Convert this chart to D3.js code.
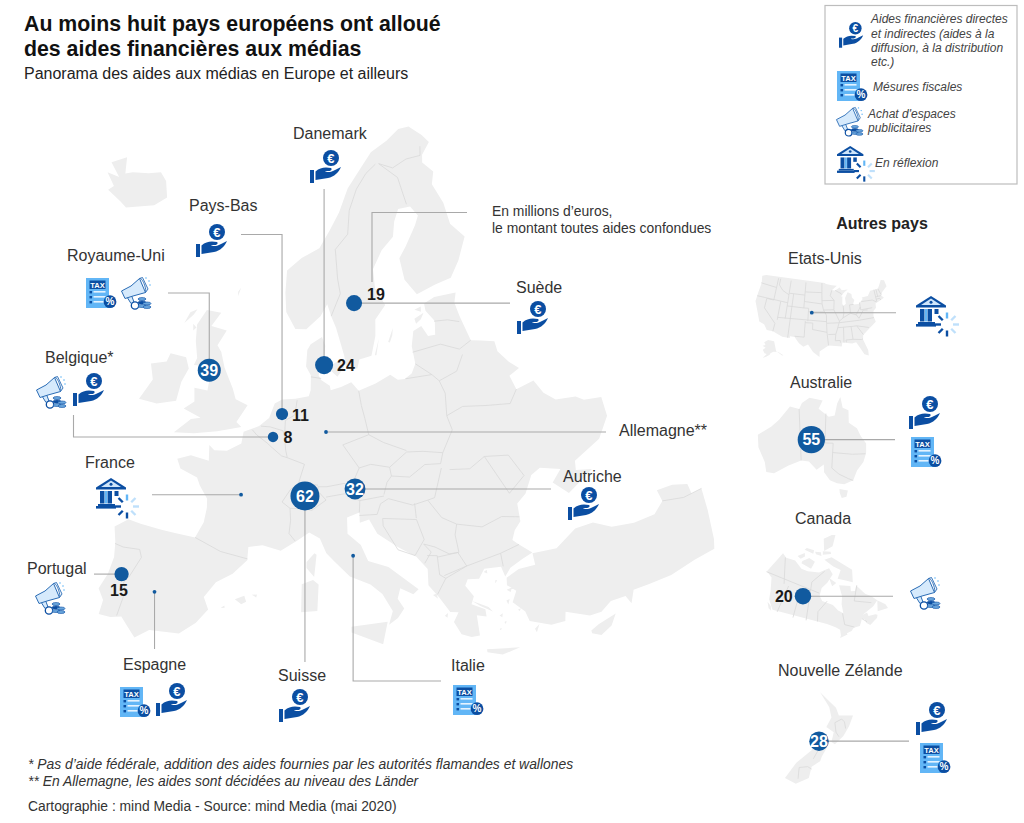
<!DOCTYPE html>
<html lang="fr"><head><meta charset="utf-8">
<script src="https://cdn.jsdelivr.net/npm/d3@7"></script>
<style>html,body{margin:0;padding:0;background:#fff}svg{display:block;font-family:"Liberation Sans",Arial,sans-serif}</style>
</head><body><svg id="c" width="1024" height="823"></svg>
<script>
// ---------- data ----------
const mainland=[[-5.6,36.0],[-6.3,36.6],[-7.0,37.2],[-7.9,37.0],[-8.9,37.0],[-8.8,38.0],[-9.4,38.7],[-8.9,39.8],[-8.7,41.0],[-8.9,42.0],[-9.3,43.0],[-8.2,43.7],[-7,43.6],[-5,43.5],[-3.5,43.45],[-1.8,43.4],[-1.2,44.5],[-1.1,45.5],[-1.2,46.1],[-2.1,46.9],[-2.5,47.4],[-4.3,47.8],[-4.8,48.4],[-3.5,48.8],[-1.6,48.65],[-1.8,49.7],[-1.2,49.4],[0.1,49.5],[1.5,50.1],[1.6,50.9],[3.2,51.4],[4.2,52.0],[4.7,53.0],[5.5,53.3],[7,53.4],[8.5,53.6],[8.7,54.0],[8.7,55.0],[8.1,55.6],[8.2,56.7],[8.6,57.1],[10.0,57.6],[10.4,57.0],[10.3,56.3],[10.8,56.3],[9.9,55.6],[9.6,55.0],[9.9,54.7],[10.9,54.3],[11.0,54.0],[12.2,54.2],[13.4,54.5],[14.2,53.9],[16.2,54.3],[18.0,54.8],[18.8,54.4],[19.6,54.4],[20.5,54.7],[21.1,55.3],[21.0,56.5],[21.5,57.5],[22.6,57.75],[23.2,57.0],[24.1,57.0],[24.4,57.9],[23.5,58.7],[23.5,59.2],[25,59.5],[27.9,59.45],[27.4,58.8],[27.6,57.9],[27.8,57.3],[28.2,56.1],[29.4,55.9],[30.9,55.6],[30.9,54.9],[31.8,54.0],[32.7,53.4],[31.4,53.1],[31.7,52.1],[33.8,52.3],[34.4,51.3],[35.4,50.6],[37.5,50.3],[38.2,49.9],[40,49.6],[39.8,48.3],[38.2,47.1],[35.2,46.3],[35.0,45.7],[36.5,45.4],[35.4,45.0],[33.7,44.4],[32.5,45.4],[33.6,46.1],[31.7,46.6],[30.7,46.3],[29.7,45.2],[28.7,44.7],[28.6,43.5],[27.9,43.0],[27.5,42.4],[28.0,42.0],[29.0,41.25],[28.0,41.0],[26.8,40.6],[26.2,40.1],[26.0,40.8],[24.5,40.9],[23.9,40.3],[22.9,40.4],[22.6,40],[23.2,39.2],[22.9,38.7],[24,38.2],[24,37.7],[23.2,37.9],[23.2,36.5],[22.5,36.5],[21.7,36.8],[21.2,37.7],[21.7,38.3],[21,38.4],[20.2,39.5],[19.4,40.4],[19.5,41.5],[18.6,42.4],[17.0,43.2],[15.2,44.2],[14.5,45.2],[13.6,45],[13.6,45.7],[12.4,45.4],[12.4,44.3],[13.6,43.5],[14.2,42.4],[16.0,41.9],[18.5,40.2],[18.0,39.9],[16.9,40.4],[16.6,39.7],[17.1,39],[16.5,38.4],[15.7,38],[16.1,38.9],[15.3,40.1],[14.3,40.8],[12.5,41.4],[11.2,42.4],[10.4,43.0],[9.8,44.0],[8.8,44.4],[7.6,43.8],[6.2,43.1],[4.5,43.4],[3.2,43.2],[3.2,42.3],[2.0,41.3],[0.6,40.6],[-0.3,39.5],[0.2,38.7],[-0.7,37.7],[-2.0,36.8],[-4.5,36.7]];
const nordic=[[12.9,55.4],[14.2,55.4],[14.5,56.0],[16.0,56.2],[16.7,57.5],[16.9,58.6],[18.4,59.5],[17.3,60.7],[17.3,62.0],[18.9,63.2],[20.9,64.0],[21.5,65.0],[22.5,65.8],[24.5,65.8],[25.4,65.1],[24.6,64.5],[22.5,63.2],[21.3,62.5],[21.5,61.0],[22.8,59.9],[25.5,60.3],[27.8,60.5],[29.5,61.5],[31.4,62.9],[29.9,64.0],[29.9,65.5],[29.0,66.9],[29.9,67.7],[28.5,68.5],[28.9,69.0],[30.9,69.7],[30.0,70.3],[28,71.1],[25.8,71.1],[23,70.5],[19.5,69.9],[16.5,68.6],[14.5,67.6],[12.8,66],[11.2,64.8],[9.6,63.6],[7,62.9],[5,62],[5,60.5],[5.3,59.2],[6.6,58.1],[8,58.1],[9.8,59.0],[10.7,59.8],[11.2,59],[11.8,58.2],[12.7,56.3]];
const turkey=[[26.3,40.0],[27.5,40.4],[29,40.4],[29,41.2],[31.2,41.1],[33.3,42.0],[35.0,42.0],[36.5,41.3],[38.5,41.0],[40.5,41.0],[41.6,41.6],[41.5,42.4],[43,42.3],[44.3,41.9],[44.3,41.2],[45.3,41.2],[45.0,39.7],[44.5,37.8],[44.2,37.2],[42.3,37.1],[40,36.8],[38,36.8],[36.6,36.8],[36.1,36.0],[35.8,36.6],[34.5,36.6],[33.5,36.1],[32.5,36.1],[30.6,36.8],[30.4,36.2],[29.2,36.2],[27.5,36.8],[27.3,37.5],[26.4,38.3],[26.9,39],[26.2,39.5]];
const islands=[
[[-5.7,50.1],[-3.6,50.3],[-1.2,50.7],[1.3,51.2],[0.7,51.5],[1.7,52.7],[0.3,53.0],[-0.2,53.7],[-1.5,55.0],[-2.2,56],[-2.8,56.4],[-2.0,57.5],[-4.0,57.6],[-3.1,58.6],[-5.0,58.6],[-5.8,57.5],[-5.5,56.4],[-4.9,55.3],[-5.1,54.8],[-3.5,54.9],[-3,54],[-3,53.3],[-4.5,53.3],[-4.2,52.4],[-5.2,51.8],[-3.2,51.4],[-4.2,51.2]],
[[-6.2,52.2],[-8.2,51.7],[-10.2,51.7],[-9.3,53.2],[-10,54.2],[-8.3,54.6],[-8.1,55.2],[-6.2,55.2],[-5.6,54.5],[-6.1,53.5]],
[[-24.2,63.9],[-21.7,63.6],[-20.5,63.4],[-16.7,64.3],[-15.3,65.1],[-16.5,66.1],[-17.9,66.5],[-19.7,66.1],[-22.1,65.7],[-23.1,65.4],[-24.2,66.4],[-26,65.6],[-23.7,65.0],[-25.7,64.9],[-23.7,64.3]],
[[8.2,39],[9.6,39.1],[9.7,40.9],[9.2,41.2],[8.2,40.9]],[[8.6,42],[9.3,41.4],[9.5,42.9],[9.3,43],[8.6,42.4]],[[12.5,38],[15.6,38.2],[15.1,36.7],[12.5,37.6]],
[[23.6,35.5],[26.3,35.2],[24.8,34.95],[23.6,35.3]],[[32.3,34.9],[33,34.6],[34.0,35.0],[34.6,35.7],[33,35.35],[32.3,35.1]],
[[2.4,39.6],[3.2,39.9],[3.4,39.5],[3,39.3]],[[3.85,40],[4.3,40.05],[4.25,39.85]],[[1.25,38.9],[1.55,39.1],[1.6,38.95]],
[[11.1,55.7],[12.5,56.1],[12.6,55.5],[11.8,54.9],[11.1,55.3]],[[9.9,55.4],[10.7,55.5],[10.6,55.1],[10,55.1]],[[18.2,57],[19,57.9],[18.8,57.4],[18.4,56.95]],[[16.4,56.2],[17.1,57.3],[16.6,56.2]],
[[21.9,58.3],[23.2,58.6],[22.7,58.2],[22,57.95]],[[22.1,58.9],[23,59.05],[22.9,58.7]],
[[-6.5,58.1],[-6.2,58.5],[-7,58.2],[-7.4,57.4]],[[-1.4,60.2],[-1.1,60.5],[-1.3,59.9]],[[-6.3,57.5],[-5.8,57.3],[-6.1,57.05]],
[[23,38.9],[24.3,38.3],[24.6,37.95],[23.6,38.5]],[[26.1,39.2],[26.6,39.3],[26.4,39]],[[25.9,38.5],[26.2,38.55],[26,38.2]],[[27.8,36.2],[28.25,36.45],[27.9,35.95]],[[25.4,37.1],[25.6,37.15],[25.5,36.95]],[[25.1,37.6],[25.4,37.7],[25.3,37.45]],[[26.75,37.75],[27,37.75],[26.8,37.6]],[[20.5,38.2],[20.8,38.35],[20.7,38.05]],[[19.7,39.7],[20,39.75],[20.1,39.4]],[[24.4,40.7],[24.7,40.8],[24.7,40.55]],[[25.3,40],[25.45,39.95],[25.2,39.8]],[[24.9,36.7],[25.1,36.75],[25,36.6]]
];
const borders=[[[-1.8,43.4],[0.7,42.7],[3.2,42.4]],[[-8.9,41.9],[-8.1,41.8],[-6.6,41.9],[-6.3,41.4],[-7,40.0],[-7.4,39.5],[-7.1,38.9],[-7.4,37.2]],[[2.5,51.1],[3,50.8],[4.2,50.3],[4.8,50.0],[5.8,49.5]],[[5.8,49.5],[6.4,49.4],[8.2,49.0],[7.6,47.6]],[[7.6,47.6],[6.9,47.3],[6.1,46.4],[6.9,46.0]],[[6.9,46.0],[7.0,45.2],[6.9,44.3],[7.5,43.8]],[[3.4,51.4],[4.4,51.4],[5.8,51.2],[6.0,50.8]],[[7.2,53.3],[7,52.3],[6,51.9],[6,50.8]],[[6.0,50.8],[6.2,49.9],[6.4,49.4]],[[8.7,54.9],[9.9,54.8]],[[14.2,53.9],[14.4,52.9],[14.7,52],[15,50.9]],[[15,50.9],[12.2,50.3],[13.8,48.7]],[[13.8,48.7],[13,47.6],[12.2,47.7],[10.5,47.5],[9.6,47.5]],[[9.6,47.6],[8.6,47.7],[7.6,47.6]],[[6.9,46.0],[8.4,46.0],[9.0,45.9],[10.4,46.6],[9.6,47.2],[9.6,47.5]],[[10.4,46.8],[12.2,47],[13.7,46.5]],[[13.7,46.5],[16.1,46.7]],[[16.1,46.8],[16.5,47.6],[17,48.0]],[[17,48.0],[16.9,48.6],[15,48.9],[13.8,48.7]],[[13.7,46.5],[13.6,45.7]],[[13.6,45.5],[15.3,45.5],[15.7,46.2],[16.5,46.5]],[[15,50.9],[16.5,50.3],[18.8,49.6]],[[16.9,48.6],[18.8,49.5]],[[18.8,49.5],[20.5,49.4],[22.5,49.1]],[[17,48],[18.8,47.8],[20.5,48.5],[22.1,48.4]],[[22.1,48.4],[22.5,49.1]],[[22.5,49.1],[23.9,50.5],[23.6,51.5]],[[23.6,51.5],[23.9,53],[23.5,53.9]],[[23.5,53.9],[22.8,54.4]],[[22.8,54.4],[19.7,54.4]],[[22.8,54.4],[21.1,55.3]],[[23.5,53.9],[25.7,54.3],[26.8,55.3]],[[21,56.1],[24.5,56.3],[26.6,55.7]],[[26.6,55.7],[28.2,56.1]],[[24.3,57.9],[26,57.8],[27.4,57.5]],[[23.6,51.5],[25.5,51.9],[28,51.6],[30.6,51.3],[31.7,52.1]],[[22.1,48.1],[21.0,46.2]],[[22.9,47.9],[24.9,47.7],[26.6,48.3]],[[26.6,48.3],[28.2,45.5]],[[26.6,48.3],[29,48],[30,46.4],[28.2,45.5]],[[22.7,44.2],[25,43.7],[27,44.1],[28.6,43.8]],[[21,46.2],[20.3,46.1],[21.4,44.8],[22.7,44.2]],[[16.5,46.5],[18.8,45.9],[20.3,46.1]],[[15.8,45.2],[19.0,44.9],[19.5,43.5],[18.5,42.5],[17.0,43.0],[15.8,44.7],[15.8,45.2]],[[19,46],[19,45]],[[19.4,43.2],[20.4,42.9],[21.6,42.3],[22.5,42.3],[22.4,43.5],[22.7,44.2]],[[19.4,43.2],[20.0,42.6],[19.3,41.9]],[[19.6,42.4],[20.5,42.3],[20.5,41],[21,40.7],[20.1,39.7]],[[20.5,42.2],[22.4,42.3],[23,41.3],[20.9,40.9]],[[21,40.7],[23,41.3],[26.2,41.7]],[[26.2,41.7],[28,42.0]],[[26.2,41.7],[26.2,40.8]],[[11.2,59.0],[12.5,60.5],[12.2,61.5],[12,63.5],[14,64.5],[14.5,66.1],[16,67.5],[18,68.5],[20,69.05]],[[20.6,69.05],[23.5,67.9],[24,66]],[[20.6,69.05],[23,68.6],[25.8,69],[28.5,69.0],[29,69.6]],[[41.6,41.6],[43.5,41.2]],[[43.5,41.2],[45.3,41.2]]];

const usaLand=[[-124.7,48.4],[-123,49],[-95.2,49],[-94.6,48.7],[-92,48.3],[-89.6,48],[-92,46.7],[-90.5,46.6],[-88.4,47.4],[-87.5,46.5],[-84.8,46.5],[-86.2,45.9],[-87.6,45.1],[-88,44.5],[-87.5,44.5],[-87.8,42.3],[-87.4,41.6],[-86.3,42.2],[-86.4,44],[-85,45.7],[-83.4,45],[-83.4,43.9],[-82.5,43],[-83.2,42],[-83.1,41.7],[-81,41.6],[-78.9,42.9],[-79.2,43.4],[-76.5,43.5],[-75,45],[-71.5,45],[-70.3,46.2],[-69.2,47.4],[-67.8,47],[-67.5,45],[-70,43.7],[-70.8,42.7],[-70,41.8],[-71.5,41.4],[-74,40.7],[-74.2,39.4],[-75.5,38.6],[-75.9,37.1],[-75.5,35.2],[-77.9,33.9],[-81.1,31.9],[-81.4,30.5],[-80.2,27],[-80.3,25.3],[-81.7,25.9],[-82.8,27.9],[-84,30],[-85.5,29.7],[-89,30.3],[-89.3,29.1],[-91.5,29.4],[-94,29.6],[-97.2,27.7],[-97.2,26],[-99.5,27.5],[-101.4,29.8],[-103,29],[-104.7,30],[-106.5,31.8],[-108.2,31.8],[-108.2,31.3],[-111,31.3],[-114.8,32.5],[-117.1,32.5],[-118.5,34],[-120.6,34.5],[-122.4,37.5],[-124.3,40.3],[-124.2,43],[-124,46.2]];
const usaStates=[[[-117,49],[-117,42],[-120,42],[-120,39],[-114.6,35],[-114.8,32.5]],[[-124.2,46.2],[-117,46]],[[-124.2,42],[-111,42]],[[-111,49],[-111,37]],[[-116,49],[-116,47],[-114,45.5],[-111,44.5]],[[-114,42],[-114,36.2]],[[-114,37],[-94.6,37]],[[-109,45],[-109,31.3]],[[-104,49],[-104,41],[-102,41],[-102,37]],[[-104,45],[-111,45]],[[-104,41],[-111,41]],[[-104,46],[-96.5,46]],[[-104,43],[-96.5,42.5]],[[-103,37],[-103,32],[-106.5,32]],[[-103,36.5],[-100,36.5],[-100,34.5],[-94.5,33.7],[-94,29.6]],[[-96.5,49],[-96.5,45.3],[-96.4,42.5],[-95.8,40.6],[-94.6,39],[-94.6,36.5],[-94.5,33.7]],[[-102,40],[-95.3,40]],[[-95.8,40.6],[-91.5,40.6]],[[-96.5,43.5],[-91.2,43.5]],[[-92,46.7],[-92.8,45],[-91.2,43.5],[-91.5,40.6],[-89.5,37],[-90.3,35],[-91.2,33],[-91.5,31],[-89.7,31],[-89.7,30.3]],[[-94.5,36.5],[-89.8,36.5],[-81.7,36.6],[-75.9,36.6]],[[-94,33],[-91.2,33]],[[-88.1,35],[-88.4,30.3]],[[-85.2,35],[-85,31],[-87.6,31],[-87.5,30.3]],[[-90.3,35],[-84.3,35],[-83,35],[-78.5,33.9]],[[-85,31],[-82,30.6],[-81.4,30.7]],[[-83,35],[-81,32]],[[-87.5,41.7],[-87.5,39.3],[-88,37.9]],[[-84.8,41.7],[-84.8,39.1]],[[-89.5,37],[-88,37.9],[-84.8,39.1],[-82.6,38.4],[-81.7,37.2]],[[-84.8,41.7],[-83.1,41.7]],[[-80.5,42],[-80.5,39.7],[-75.7,39.7]],[[-82.6,38.4],[-80.5,40.6]],[[-81.7,37.2],[-79.5,39.5],[-77.7,39.3]],[[-79.7,42.2],[-75,42],[-73.5,41.2]],[[-73.3,45],[-73.3,41.2]],[[-73.3,42.7],[-71,42.7]],[[-71.5,45],[-70.8,43]],[[-72.4,45],[-72.4,42.7]],[[-73.3,42],[-71.8,42],[-71.5,41.4]],[[-90.5,46.6],[-88,45.5],[-87.6,45.1]]];
const alaska=[[-168,65.5],[-162,66.5],[-166,68.8],[-156.5,71.2],[-141,69.7],[-141,60.2],[-137,59],[-131,55.2],[-133,55.5],[-139,59.6],[-146,60.5],[-151.5,59.3],[-153,58],[-158,56.3],[-164,54.6],[-158,58.5],[-162,59],[-166,61.8],[-161,64]];
const canadaLand=[[[-141,69.6],[-141,60.3],[-135,59.5],[-130,55],[-128,52],[-123.5,49.3],[-123,49],[-95.2,49],[-89.6,48],[-84.8,46.5],[-82.5,45.3],[-82.5,43],[-83.1,42],[-79,42.9],[-79.2,43.5],[-76.5,44],[-75,45],[-71.5,45],[-70.3,46.2],[-69.2,47.4],[-67.8,47],[-67.5,45.3],[-66,44],[-61,45.5],[-60,46.5],[-61,47],[-65,47.5],[-65,49],[-68,48.8],[-60,50.2],[-56,51.5],[-58,54],[-61,56],[-64.5,60.3],[-67,58.5],[-70,59],[-69,61],[-78,62.4],[-77.5,58],[-79,55],[-79,51.5],[-82,52.9],[-85,55.3],[-92.5,57],[-94.5,59],[-93,62],[-88,64],[-82,67],[-85,69.5],[-93,68.5],[-96,68],[-108,67.8],[-115,68],[-125,70],[-135,69]],
[[-59,47.7],[-53,46.7],[-53,48.5],[-56,51.5]],[[-128,50.8],[-125,50],[-123.5,48.4],[-125.5,48.8]],[[-62,66.5],[-66,62],[-73,64],[-78,65],[-73,68],[-80,70],[-90,73],[-80,73.7]],[[-117,70],[-105,69],[-102,72],[-110,73],[-117,71]],[[-125,72],[-118,74.3],[-116,73],[-120,71.5]],[[-90,76.5],[-75,78],[-62,82.5],[-70,83.1],[-90,82]],[[-92,75],[-80,75],[-80,76],[-92,76.5]],[[-102,75],[-94,74.5],[-95,76],[-104,76]],[[-120,75.5],[-106,75],[-106,76.5],[-118,76.5]],[[-86,65.8],[-80,63.5],[-84,62.5]]];
const canadaProv=[[[-120,49],[-120,60]],[[-110,49],[-110,60]],[[-102,49],[-102,60]],[[-95.2,49],[-95.2,52.8],[-88.9,56.9]],[[-141,60],[-94.8,60]],[[-79.5,51.5],[-79.5,47],[-74.5,45.2]],[[-124,60],[-136,68.9]],[[-102,60],[-102,64],[-90,68.5]],[[-67,45.7],[-69,47.4]],[[-64,60.3],[-70,55],[-60,51.8]]];
const australiaLand=[[[114,-22],[113.5,-26],[115,-31],[115,-34.3],[118,-35],[124,-33],[129,-31.6],[132,-32],[135,-34.7],[137.8,-33],[138,-35.5],[140.5,-38],[143.5,-38.8],[146.5,-39],[150,-37.3],[151,-34],[153,-31],[153.5,-28],[153,-25],[150.8,-23],[149,-20.5],[146,-19],[145.5,-15],[143.5,-14.3],[142.5,-10.8],[141.6,-13],[141,-17],[139,-17.5],[135.5,-15],[136.8,-12.2],[132.5,-11.3],[130,-13],[129,-15],[126,-14],[122,-18],[119,-20]],[[144.7,-40.7],[148.3,-40.9],[148,-43],[146,-43.6],[145,-42]]];
const australiaStates=[[[129,-15],[129,-31.6]],[[138,-16.5],[138,-26],[141,-26],[141,-34]],[[129,-26],[138,-26]],[[141,-29],[148.5,-29],[153.3,-28.3]],[[141,-34],[144,-35.8],[148,-37],[150,-37.4]]];
const nzLand=[[[172.7,-34.4],[174.3,-35.7],[175.5,-36.6],[176,-37.7],[178.5,-37.7],[177.8,-39.2],[176.8,-40.5],[175.3,-41.6],[174.7,-41.3],[175.1,-40],[173.8,-39.3],[174.7,-38],[174.3,-36.5]],[[172.7,-40.5],[174.3,-41.5],[173,-43.2],[172.7,-43.8],[171.2,-44.5],[170.7,-45.9],[168.4,-46.6],[166.5,-45.9],[168.5,-44],[171.2,-42.4]]];
const nzRegions=[[[175.3,-38.7],[176.5,-38.2],[177,-38.6],[177.2,-39.5]],[[175.3,-38.7],[175.5,-40],[176,-40.6]],[[172.5,-41],[172.5,-42.2],[171.5,-43.5]],[[169,-44.6],[170.5,-44.5],[171.2,-44.8]],[[169,-44.6],[168.8,-46]]];

// countries with an amount: [name, value, lon, lat]
const funded=[["Danemark",24,10.25,55.7],["Pays-Bas",11,5.59,52.32],["Belgique",8,4.78,50.74],["Suède",19,14.29,59.82],["Royaume-Uni",39,-3.22,54.66],["Suisse",62,8.32,46.87],["Autriche",32,13.28,47.3],["Portugal",15,-7.72,40.0]];
const reflecting=[["Allemagne",10.43,51.19],["France",2.04,46.67],["Espagne",-4.6,39.3],["Italie",12.85,42.8]];
const insetValues={Australie:[55,133,-25],Canada:[20,-107,58],"Nouvelle Zélande":[28,172.5,-41.2]};
const usDot=[-100.6,39.7];

// ---------- helpers ----------
const svg=d3.select("#c");
const LAND="#eeeeee",EDGE="#d9d9d9",LINE="#a9a9a9",DOT="#115a9f",ICON="#0b4ea2",SKY="#62b6f6",PALE="#d6eafc";
function poly(rings){
  return {type:"MultiPolygon",coordinates:rings.map(r=>{
    let c=r.concat([r[0]]);
    if(d3.geoArea({type:"Polygon",coordinates:[c]})>2*Math.PI) c=c.slice().reverse();
    return [c];
  })};
}
function lines(l){return {type:"MultiLineString",coordinates:l};}
function drawMap(proj,land,b){
  const p=d3.geoPath(proj);
  svg.append("path").attr("d",p(land)).attr("fill",LAND);
  if(b) svg.append("path").attr("d",p(lines(b))).attr("fill","none").attr("stroke",EDGE).attr("stroke-width",.8);
}
function txt(x,y,s,o={}){
  return svg.append("text").attr("x",x).attr("y",y).text(s)
    .attr("font-size",o.size||16).attr("fill",o.fill||"#333")
    .attr("font-weight",o.weight||null).attr("font-style",o.style||null)
    .attr("text-anchor",o.anchor||null);
}
function leader(pts){
  svg.append("path").attr("d",d3.line()(pts)).attr("fill","none").attr("stroke",LINE).attr("stroke-width",1.1);
}
function icon(x,y,s){return svg.append("g").attr("transform",`translate(${x},${y}) scale(${s||1})`);}
function hand(x,y,s){
  const g=icon(x,y,s);
  g.append("circle").attr("cx",21).attr("cy",8).attr("r",8).attr("fill",ICON);
  g.append("text").attr("x",20.8).attr("y",12.6).attr("text-anchor","middle").attr("font-size",13).attr("font-weight","bold").attr("fill","#fff").text("€");
  g.append("rect").attr("x",0).attr("y",20).attr("width",4).attr("height",13).attr("fill",ICON);
  g.append("path").attr("d","M5.5 21.5C9 18.5 12 17.5 16 17.5L21 18C22.5 19 21 21 19 21L15 21C17 23 22 22 25 20L31 17C29 22 24 27 18 28L5.5 30Z").attr("fill",ICON);
}
function tax(x,y,s){
  const g=icon(x,y,s);
  g.append("rect").attr("width",23).attr("height",30).attr("fill",SKY);
  g.append("rect").attr("x",3.5).attr("y",2.5).attr("width",16).attr("height",8.5).attr("fill",ICON);
  g.append("text").attr("x",11.5).attr("y",9.6).attr("text-anchor","middle").attr("font-size",7.6).attr("font-weight","bold").attr("fill","#fff").text("TAX");
  [14,19,24].forEach(v=>{
    g.append("rect").attr("x",3.5).attr("y",v-1).attr("width",2.5).attr("height",2.4).attr("fill",ICON);
    g.append("rect").attr("x",7.5).attr("y",v-1).attr("width",12).attr("height",1.6).attr("fill","#e4f3ff");
  });
  g.append("circle").attr("cx",24).attr("cy",23.7).attr("r",6.4).attr("fill",ICON);
  g.append("text").attr("x",24).attr("y",27.4).attr("text-anchor","middle").attr("font-size",10).attr("font-weight","bold").attr("fill","#fff").text("%");
}
function megaphone(x,y,s){
  const g=icon(x,y,s);
  g.append("path").attr("d","M6 20L10 26.5L13 25L10.5 18.5").attr("fill",PALE).attr("stroke","#2a6cb5").attr("stroke-width",1);
  g.append("path").attr("d","M0.5 14L4 21.5L12 19L24.5 15.5L18.5 1.5L10 9Z").attr("fill",PALE).attr("stroke","#2a6cb5").attr("stroke-width",1).attr("stroke-linejoin","round");
  g.append("path").attr("d","M18.5 1.5C21 0 26 12 24.5 15.5L27 12L21.5 .5Z").attr("fill","#eef6fe").attr("stroke","#2a6cb5").attr("stroke-width",.9).attr("stroke-linejoin","round");
  [[25,0],[28,3],[29,7]].forEach(d=>g.append("circle").attr("cx",d[0]).attr("cy",d[1]+1).attr("r",.8).attr("fill",SKY));
  g.append("circle").attr("cx",14).attr("cy",28.5).attr("r",3.7).attr("fill","#fff").attr("stroke",ICON).attr("stroke-width",1.3);
  [22,25.5,29].forEach(v=>g.append("ellipse").attr("cx",21).attr("cy",v).attr("rx",4).attr("ry",1.5).attr("fill",v==25.5?ICON:"#6aa6dc").attr("stroke",ICON).attr("stroke-width",.6));
  [26.5,30].forEach(v=>g.append("ellipse").attr("cx",26).attr("cy",v).attr("rx",4).attr("ry",1.5).attr("fill","#6aa6dc").attr("stroke",ICON).attr("stroke-width",.6));
}
function bank(x,y,s){
  const g=icon(x,y,s);
  g.append("path").attr("d","M15 0L30 9.5L30 11.5L0 11.5L0 9.5Z").attr("fill",ICON);
  g.append("path").attr("d","M15 2.6L25 9L5 9Z").attr("fill","#cfe6fb");
  g.append("circle").attr("cx",15).attr("cy",6.3).attr("r",1.5).attr("fill",ICON);
  [4,11.5].forEach(v=>g.append("rect").attr("x",v).attr("y",13).attr("width",4.5).attr("height",12.5).attr("fill",ICON));
  g.append("rect").attr("x",8.8).attr("y",13).attr("width",2.4).attr("height",12.5).attr("fill",SKY);
  g.append("rect").attr("x",18.5).attr("y",13).attr("width",4).attr("height",5).attr("fill",ICON);
  g.append("rect").attr("x",2).attr("y",26).attr("width",17).attr("height",2).attr("fill",ICON);
  g.append("rect").attr("x",0).attr("y",28).attr("width",20).attr("height",2.6).attr("fill",ICON);
  d3.range(8).forEach(i=>{
    const a=i*Math.PI/4+Math.PI, c=[31,28.5], r0=6,r1=12;
    g.append("line").attr("x1",c[0]+r0*Math.cos(a)).attr("y1",c[1]+r0*Math.sin(a))
      .attr("x2",c[0]+r1*Math.cos(a)).attr("y2",c[1]+r1*Math.sin(a))
      .attr("stroke-width",2.4).attr("stroke",[0,1,7,6].includes(i)?ICON:(i==2?SKY:"#bfe0fb"));
  });
}

// ---------- Europe ----------
const europe=d3.geoAzimuthalEqualArea().rotate([-10,-52]).scale(850).translate([322,420]);
drawMap(europe,poly([mainland,nordic,turkey].concat(islands)),borders);
const ep=(lon,lat)=>europe([lon,lat]);
const rScale=d3.scaleSqrt().domain([0,62]).range([0,14.5]);

// ---------- insets ----------
const usProj=d3.geoConicEqualArea().parallels([29.5,45.5]).rotate([96,0]).center([0,37.5]).fitExtent([[754,275],[888,357]],poly([usaLand]));
drawMap(usProj,poly([usaLand]),usaStates);
const akProj=d3.geoConicEqualArea().parallels([55,65]).rotate([154,0]).center([0,60]).fitExtent([[756,340],[790,358]],poly([alaska]));
drawMap(akProj,poly([alaska]));
const auLand=poly(australiaLand);
const auProj=d3.geoConicEqualArea().parallels([-18,-36]).rotate([-134,0]).fitExtent([[757,397],[867,498]],auLand);
drawMap(auProj,auLand,australiaStates);
const caLand=poly(canadaLand);
const caProj=d3.geoConicEqualArea().parallels([50,70]).rotate([92,0]).fitExtent([[767,533],[888,640]],caLand);
drawMap(caProj,caLand,canadaProv);
const nLand=poly(nzLand);
const nzProj=d3.geoMercator().rotate([-172,0]).fitExtent([[785,688],[853,788]],nLand);
drawMap(nzProj,nLand,nzRegions);

// ---------- leaders ----------
const pos=Object.fromEntries(funded.map(d=>[d[0],ep(d[2],d[3])]));
const rpos=Object.fromEntries(reflecting.map(d=>[d[0],ep(d[1],d[2])]));
const auP=auProj(insetValues.Australie.slice(1)),caP=caProj(insetValues.Canada.slice(1)),nzP=nzProj(insetValues["Nouvelle Zélande"].slice(1)),usP=usProj(usDot);
let p;
p=pos["Danemark"];leader([[p[0],189],p]);
p=pos["Pays-Bas"];leader([[241,234.5],[p[0],234.5],p]);
p=pos["Royaume-Uni"];leader([[168,293],[p[0],293],p]);
p=pos["Belgique"];leader([[73.5,415],[73.5,p[1]],p]);
p=pos["Suède"];leader([p,[510,p[1]]]);
leader([[372,282],[372,212.5],[467,212.5]]);
p=rpos["Allemagne"];leader([p,[606,p[1]]]);
p=rpos["France"];leader([[152,p[1]],p]);
p=pos["Suisse"];leader([p,[p[0],662]]);
p=pos["Autriche"];leader([p,[551,p[1]]]);
p=pos["Portugal"];leader([[94,p[1]],p]);
p=rpos["Espagne"];leader([p,[p[0],649]]);
p=rpos["Italie"];leader([p,[p[0],681],[441,681]]);
leader([usP,[896,usP[1]]]);leader([auP,[895,auP[1]]]);leader([caP,[893,caP[1]]]);leader([nzP,[909,nzP[1]]]);

// ---------- dots ----------
function bubble(pt,v){svg.append("circle").attr("cx",pt[0]).attr("cy",pt[1]).attr("r",rScale(v)).attr("fill",DOT);}
function inner(pt,v,size){txt(pt[0],pt[1]+size*.36,String(v),{size,weight:"bold",fill:"#fff",anchor:"middle"});}
funded.forEach(d=>bubble(pos[d[0]],d[1]));
bubble(auP,55);bubble(caP,20);bubble(nzP,28);
[...Object.values(rpos),usP].forEach(q=>svg.append("circle").attr("cx",q[0]).attr("cy",q[1]).attr("r",1.9).attr("fill",DOT));
inner(pos["Royaume-Uni"],39,16);inner(pos["Suisse"],62,16);inner(pos["Autriche"],32,16);
inner(auP,55,16);inner(nzP,28,16);
const B={size:16,weight:"bold",fill:"#1a1a1a"};
txt(pos["Danemark"][0]+13,371,"24",B);
txt(pos["Pays-Bas"][0]+10,420.5,"11",B);
txt(pos["Belgique"][0]+10.5,443,"8",B);
txt(367,300,"19",B);
txt(110,596,"15",B);
txt(caP[0]-28,caP[1]+5.5,"20",B);

// ---------- labels ----------
txt(24,31,"Au moins huit pays européens ont alloué",{size:21.3,weight:"bold",fill:"#111"});
txt(24,56,"des aides financières aux médias",{size:21.3,weight:"bold",fill:"#111"});
txt(24,79,"Panorama des aides aux médias en Europe et ailleurs",{size:16,fill:"#222"});
[["Danemark",293,139],["Pays-Bas",189,211],["Royaume-Uni",67,261],["Belgique*",45,363],["France",85,468],["Portugal",27,574],["Espagne",123,669.5],["Suisse",278,681],["Italie",451,671],["Autriche",563,482],["Suède",516,292.5],["Allemagne**",619,436],["Etats-Unis",788,264],["Australie",790,388],["Canada",795,524],["Nouvelle Zélande",778,676]]
  .forEach(d=>txt(d[1],d[2],d[0]));
txt(492,215.7,"En millions d’euros,",{size:13.9,fill:"#333"});
txt(492,232.5,"le montant toutes aides confondues",{size:13.9,fill:"#333"});
txt(882,229,"Autres pays",{size:16,weight:"bold",fill:"#222",anchor:"middle"});
txt(28,768.7,"* Pas d’aide fédérale, addition des aides fournies par les autorités flamandes et wallones",{size:13.9,style:"italic",fill:"#333"});
txt(28,785.5,"** En Allemagne, les aides sont décidées au niveau des Länder",{size:13.9,style:"italic",fill:"#333"});
txt(28,811,"Cartographie : mind Media - Source: mind Media (mai 2020)",{size:13.85,fill:"#333"});

// ---------- legend ----------
svg.append("rect").attr("x",825).attr("y",5.5).attr("width",192).attr("height",178.5).attr("fill","none").attr("stroke","#bdbdbd").attr("stroke-width",1.2);
const L={size:12,style:"italic",fill:"#444"};
[["Aides financières directes",871,23],["et indirectes (aides à la",871,37.5],["diffusion, à la distribution",871,52],["etc.)",871,66],["Mésures fiscales",873,91],["Achat d'espaces",868,118],["publicitaires",868,132],["En réflexion",875,167]]
  .forEach(d=>txt(d[1],d[2],d[0],L));
hand(839,22,.78);tax(837,71);megaphone(836,107,.9);bank(837,146,.88);

// ---------- icons ----------
hand(310,150);hand(196,224);hand(73,373);hand(517,301);hand(568,487);hand(156,683);hand(279,689);hand(909,396);hand(916,702);
tax(86,278);tax(120,687);tax(453,685);tax(911,437);tax(920,743);
megaphone(121,277);megaphone(36,376);megaphone(35,582);megaphone(910,577);
bank(96,478);bank(916,296);
</script></body></html>
